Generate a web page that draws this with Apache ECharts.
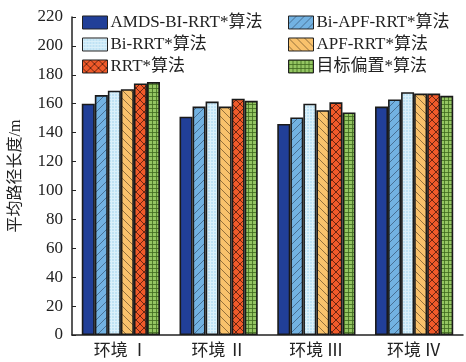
<!DOCTYPE html>
<html><head><meta charset="utf-8">
<script src="https://cdn.jsdelivr.net/npm/echarts@6/dist/echarts.min.js"></script>
<style>html,body{margin:0;padding:0;background:#fff}#c{width:466px;height:362px}</style>
</head><body><div id="c"></div>
<script>
const categories = ['环境\u2009Ⅰ', '环境\u2009Ⅱ', '环境\u2009Ⅲ', '环境\u2009Ⅳ'];
const seriesNames = ['AMDS-BI-RRT*算法', 'Bi-APF-RRT*算法', 'Bi-RRT*算法', 'APF-RRT*算法', 'RRT*算法', '目标偏置*算法'];
const amds = [160, 151, 146, 158];
const biApf = [166, 158, 150.5, 163];
const biRrt = [169, 161.5, 160, 168];
const apf = [170, 158, 155.5, 167];
const rrt = [174, 163.5, 161, 167];
const goalBias = [175, 162, 154, 165.5];
const yTicks = {min: 0, max: 220, interval: 20};

function pat(size, bg, draw) {
  const c = document.createElement('canvas');
  c.width = size; c.height = size;
  const g = c.getContext('2d');
  g.fillStyle = bg; g.fillRect(0, 0, size, size);
  draw(g, size);
  return {image: c, repeat: 'repeat'};
}
const fills = [
  '#213f98',
  pat(8, '#72b2e2', (g, s) => { g.strokeStyle = '#3d5f80'; g.lineWidth = 0.8;
    g.beginPath(); g.moveTo(0, s); g.lineTo(s, 0); g.moveTo(-s/2, s/2); g.lineTo(s/2, -s/2); g.moveTo(s/2, s*1.5); g.lineTo(s*1.5, s/2); g.stroke(); }),
  pat(3, '#bfe2f4', (g, s) => { g.fillStyle = '#daf0fa'; g.fillRect(0, 0, s, 1); g.fillRect(0, 0, 1, s); }),
  pat(8, '#f9c26c', (g, s) => { g.strokeStyle = '#7a5a30'; g.lineWidth = 0.8;
    g.beginPath(); g.moveTo(0, 0); g.lineTo(s, s); g.moveTo(-s/2, s/2); g.lineTo(s/2, s*1.5); g.moveTo(s/2, -s/2); g.lineTo(s*1.5, s/2); g.stroke(); }),
  pat(8, '#f05a2a', (g, s) => { g.strokeStyle = '#5a2010'; g.lineWidth = 0.9;
    g.beginPath(); g.moveTo(0, 0); g.lineTo(s, s); g.moveTo(0, s); g.lineTo(s, 0); g.stroke(); }),
  pat(4, '#94c662', (g, s) => { g.fillStyle = '#3f6a20'; g.fillRect(0, 0, s, 0.8); g.fillRect(0, 0, 0.8, s); })
];
const values = [amds, biApf, biRrt, apf, rrt, goalBias];
const font = "'Liberation Serif', 'Noto Sans CJK SC', serif";
const legendText = {fontFamily: font, fontSize: 17, color: '#222', padding: [0, 0, 0, -2]};

const chart = echarts.init(document.getElementById('c'), null, {renderer: 'canvas'});
chart.setOption({
  animation: false,
  textStyle: {fontFamily: font},
  grid: {left: 67, right: 3, top: 17, bottom: 27},
  legend: [
    {data: [seriesNames[0], seriesNames[2], seriesNames[4]], orient: 'vertical', left: 77, top: 9,
     icon: 'rect', itemWidth: 25, itemHeight: 13, itemGap: 5, textStyle: legendText,
     itemStyle: {borderColor: '#222', borderWidth: 1}},
    {data: [seriesNames[1], seriesNames[3], seriesNames[5]], orient: 'vertical', left: 283, top: 9,
     icon: 'rect', itemWidth: 25, itemHeight: 13, itemGap: 5, textStyle: legendText,
     itemStyle: {borderColor: '#222', borderWidth: 1}}
  ],
  xAxis: {
    type: 'category', data: categories,
    axisLine: {lineStyle: {color: '#222', width: 1.5}},
    axisTick: {show: false},
    axisLabel: {fontFamily: font, fontSize: 17, color: '#222', margin: 8}
  },
  yAxis: {
    type: 'value', min: yTicks.min, max: yTicks.max, interval: yTicks.interval,
    name: '平均路径长度/m', nameLocation: 'middle', nameGap: 48,
    nameTextStyle: {fontFamily: font, fontSize: 16, color: '#222'},
    axisLine: {show: true, lineStyle: {color: '#222', width: 1.5}},
    axisTick: {show: true, inside: true, length: 4, lineStyle: {color: '#222'}},
    splitLine: {show: false},
    axisLabel: {fontFamily: font, fontSize: 17, color: '#222', margin: 9}
  },
  series: seriesNames.map((n, i) => ({
    name: n, type: 'bar', data: values[i],
    barGap: '0%', barCategoryGap: '20%',
    itemStyle: {color: fills[i], borderColor: '#1a1a1a', borderWidth: 1.6}
  }))
});
</script></body></html>
